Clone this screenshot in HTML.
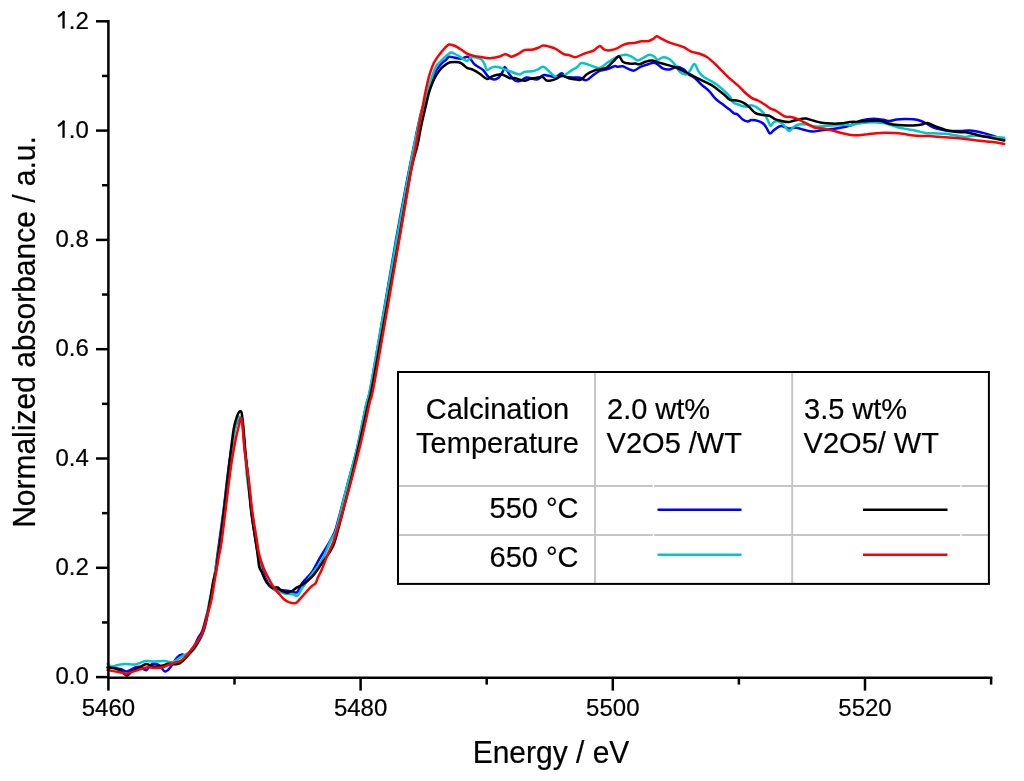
<!DOCTYPE html>
<html><head><meta charset="utf-8"><style>
html,body{margin:0;padding:0;background:#fff;width:1024px;height:781px;overflow:hidden}
svg{display:block}
text{font-family:"Liberation Sans",sans-serif;fill:#000;stroke:#000;stroke-width:0.2px;stroke-linejoin:round}
svg{will-change:transform}
</style></head><body>
<svg width="1024" height="781" viewBox="0 0 1024 781">
<rect width="1024" height="781" fill="#fff"/>
<path fill="none" stroke="#0000ff" stroke-width="2.5" stroke-linejoin="round" stroke-linecap="round" d="M107.60,667.40 C108.67,667.50 111.75,667.72 114.00,668.00 C116.25,668.28 118.93,668.52 121.10,669.10 C123.27,669.68 124.65,671.78 127.00,671.50 C129.35,671.22 133.07,668.18 135.20,667.40 C137.33,666.62 137.95,666.32 139.80,666.80 C141.65,667.28 144.53,670.60 146.30,670.30 C148.07,670.00 148.83,666.07 150.40,665.00 C151.97,663.93 154.13,663.80 155.70,663.90 C157.27,664.00 158.25,664.33 159.80,665.60 C161.35,666.87 163.25,671.20 165.00,671.50 C166.75,671.80 168.25,669.75 170.30,667.40 C172.35,665.05 175.35,659.55 177.30,657.40 C179.25,655.25 180.47,654.77 182.00,654.50 C183.53,654.23 185.00,656.52 186.50,655.80 C188.00,655.08 189.67,651.92 191.00,650.20 C192.33,648.48 193.27,647.62 194.50,645.50 C195.73,643.38 197.10,639.92 198.40,637.50 C199.70,635.08 200.93,634.72 202.30,631.00 C203.67,627.28 205.22,620.37 206.60,615.20 C207.98,610.03 209.37,605.87 210.60,600.00 C211.83,594.13 213.02,586.33 214.00,580.00 C214.98,573.67 215.58,568.67 216.50,562.00 C217.42,555.33 218.33,548.50 219.50,540.00 C220.67,531.50 222.33,520.17 223.50,511.00 C224.67,501.83 225.58,492.67 226.50,485.00 C227.42,477.33 228.08,471.67 229.00,465.00 C229.92,458.33 231.00,451.17 232.00,445.00 C233.00,438.83 233.93,432.33 235.00,428.00 C236.07,423.67 237.57,420.83 238.40,419.00 C239.23,417.17 239.37,416.83 240.00,417.00 C240.63,417.17 241.65,417.83 242.20,420.00 C242.75,422.17 242.87,425.00 243.30,430.00 C243.73,435.00 243.92,441.50 244.80,450.00 C245.68,458.50 247.48,470.67 248.60,481.00 C249.72,491.33 250.35,502.17 251.50,512.00 C252.65,521.83 254.32,532.67 255.50,540.00 C256.68,547.33 257.47,551.00 258.60,556.00 C259.73,561.00 260.73,565.53 262.30,570.00 C263.87,574.47 265.95,579.57 268.00,582.80 C270.05,586.03 272.13,588.17 274.60,589.40 C277.07,590.63 280.07,589.90 282.80,590.20 C285.53,590.50 288.62,590.87 291.00,591.20 C293.38,591.53 295.23,593.57 297.10,592.20 C298.97,590.83 299.82,586.23 302.20,583.00 C304.58,579.77 308.50,576.90 311.40,572.80 C314.30,568.70 317.17,562.53 319.60,558.40 C322.03,554.27 324.18,551.07 326.00,548.00 C327.82,544.93 328.83,543.33 330.50,540.00 C332.17,536.67 333.13,537.38 336.00,528.00 C338.87,518.62 344.22,496.83 347.70,483.70 C351.18,470.57 353.83,462.25 356.90,449.20 C359.97,436.15 363.58,416.93 366.10,405.40 C368.62,393.87 367.02,407.57 372.00,380.00 C376.98,352.43 389.87,274.73 396.00,240.00 C402.13,205.27 405.47,188.97 408.80,171.60 C412.13,154.23 413.92,145.73 416.00,135.80 C418.08,125.87 419.33,119.05 421.30,112.00 C423.27,104.95 425.97,98.97 427.80,93.50 C429.63,88.03 430.83,83.12 432.30,79.20 C433.77,75.28 435.12,72.57 436.60,70.00 C438.08,67.43 439.67,65.47 441.20,63.80 C442.73,62.13 444.50,61.17 445.80,60.00 C447.10,58.83 447.63,57.22 449.00,56.80 C450.37,56.38 452.03,57.17 454.00,57.50 C455.97,57.83 458.63,58.92 460.80,58.80 C462.97,58.68 465.40,56.80 467.00,56.80 C468.60,56.80 469.13,57.53 470.40,58.80 C471.67,60.07 472.52,62.55 474.60,64.40 C476.68,66.25 480.60,67.83 482.90,69.90 C485.20,71.97 486.55,75.18 488.40,76.80 C490.25,78.42 492.27,79.48 494.00,79.60 C495.73,79.72 497.38,78.77 498.80,77.50 C500.22,76.23 501.47,73.73 502.50,72.00 C503.53,70.27 503.88,66.77 505.00,67.10 C506.12,67.43 507.47,71.72 509.20,74.00 C510.93,76.28 513.52,79.67 515.40,80.80 C517.28,81.93 518.60,81.33 520.50,80.80 C522.40,80.27 524.05,77.82 526.80,77.60 C529.55,77.38 534.25,79.92 537.00,79.50 C539.75,79.08 540.98,75.63 543.30,75.10 C545.62,74.57 548.78,75.98 550.90,76.30 C553.02,76.62 554.20,77.52 556.00,77.00 C557.80,76.48 560.00,73.20 561.70,73.20 C563.40,73.20 563.33,76.27 566.20,77.00 C569.07,77.73 575.52,77.08 578.90,77.60 C582.28,78.12 583.97,80.63 586.50,80.10 C589.03,79.57 591.78,75.98 594.10,74.40 C596.42,72.82 598.28,71.43 600.40,70.60 C602.52,69.77 604.47,70.13 606.80,69.40 C609.13,68.67 612.60,66.63 614.40,66.20 C616.20,65.77 616.22,66.80 617.60,66.80 C618.98,66.80 621.00,65.88 622.70,66.20 C624.40,66.52 625.90,67.97 627.80,68.70 C629.70,69.43 631.98,70.92 634.10,70.60 C636.22,70.28 638.17,67.85 640.50,66.80 C642.83,65.75 645.88,64.97 648.10,64.30 C650.32,63.63 652.12,62.70 653.80,62.80 C655.48,62.90 656.62,63.92 658.20,64.90 C659.78,65.88 661.38,67.95 663.30,68.70 C665.22,69.45 667.37,69.72 669.70,69.40 C672.03,69.08 674.98,66.80 677.30,66.80 C679.62,66.80 681.70,68.13 683.60,69.40 C685.50,70.67 686.78,72.93 688.70,74.40 C690.62,75.87 692.98,76.50 695.10,78.20 C697.22,79.90 699.08,82.48 701.40,84.60 C703.72,86.72 706.67,88.57 709.00,90.90 C711.33,93.23 713.28,96.48 715.40,98.60 C717.52,100.72 719.38,101.82 721.70,103.60 C724.02,105.38 727.28,107.70 729.30,109.30 C731.32,110.90 732.42,112.35 733.80,113.20 C735.18,114.05 736.12,113.35 737.60,114.40 C739.08,115.45 741.00,118.33 742.70,119.50 C744.40,120.67 746.32,121.30 747.80,121.40 C749.28,121.50 749.70,120.10 751.60,120.10 C753.50,120.10 757.08,120.65 759.20,121.40 C761.32,122.15 762.92,123.22 764.30,124.60 C765.68,125.98 766.55,128.22 767.50,129.70 C768.45,131.18 768.85,133.50 770.00,133.50 C771.15,133.50 772.60,130.97 774.40,129.70 C776.20,128.43 778.47,126.12 780.80,125.90 C783.13,125.68 785.87,128.08 788.40,128.40 C790.93,128.72 793.47,127.58 796.00,127.80 C798.53,128.02 800.85,129.07 803.60,129.70 C806.35,130.33 809.53,131.50 812.50,131.60 C815.47,131.70 818.22,130.73 821.40,130.30 C824.58,129.87 828.43,129.42 831.60,129.00 C834.77,128.58 837.45,128.32 840.40,127.80 C843.35,127.28 846.97,126.58 849.30,125.90 C851.63,125.22 852.53,124.57 854.40,123.70 C856.27,122.83 858.30,121.45 860.50,120.70 C862.70,119.95 864.95,119.50 867.60,119.20 C870.25,118.90 873.77,118.80 876.40,118.90 C879.03,119.00 881.22,119.43 883.40,119.80 C885.58,120.17 887.30,121.15 889.50,121.10 C891.70,121.05 894.10,119.87 896.60,119.50 C899.10,119.13 901.72,118.95 904.50,118.90 C907.28,118.85 910.67,118.90 913.30,119.20 C915.93,119.50 918.25,120.07 920.30,120.70 C922.35,121.33 923.55,121.92 925.60,123.00 C927.65,124.08 930.57,126.23 932.60,127.20 C934.63,128.17 935.63,128.25 937.80,128.80 C939.97,129.35 943.00,130.12 945.60,130.50 C948.20,130.88 950.78,131.03 953.40,131.10 C956.02,131.17 958.68,131.00 961.30,130.90 C963.92,130.80 966.50,130.40 969.10,130.50 C971.70,130.60 974.30,131.02 976.90,131.50 C979.50,131.98 982.10,132.68 984.70,133.40 C987.30,134.12 989.25,134.82 992.50,135.80 C995.75,136.78 1002.25,138.72 1004.20,139.30"/><path fill="none" stroke="#00c8c8" stroke-width="2.5" stroke-linejoin="round" stroke-linecap="round" d="M107.60,663.90 C108.28,664.38 109.97,666.62 111.70,666.80 C113.43,666.98 115.65,665.48 118.00,665.00 C120.35,664.52 122.93,663.98 125.80,663.90 C128.67,663.82 131.88,664.98 135.20,664.50 C138.52,664.02 142.58,661.50 145.70,661.00 C148.82,660.50 150.77,661.50 153.90,661.50 C157.03,661.50 161.37,660.90 164.50,661.00 C167.63,661.10 169.78,662.88 172.70,662.10 C175.62,661.32 178.88,658.05 182.00,656.30 C185.12,654.55 189.23,652.98 191.40,651.60 C193.57,650.22 193.43,650.35 195.00,648.00 C196.57,645.65 199.05,641.20 200.80,637.50 C202.55,633.80 204.22,631.05 205.50,625.80 C206.78,620.55 207.17,613.47 208.50,606.00 C209.83,598.53 212.08,588.67 213.50,581.00 C214.92,573.33 215.92,566.50 217.00,560.00 C218.08,553.50 218.87,550.08 220.00,542.00 C221.13,533.92 222.65,520.93 223.80,511.50 C224.95,502.07 225.97,493.15 226.90,485.40 C227.83,477.65 228.38,472.57 229.40,465.00 C230.42,457.43 231.90,446.67 233.00,440.00 C234.10,433.33 235.10,428.67 236.00,425.00 C236.90,421.33 237.73,419.33 238.40,418.00 C239.07,416.67 239.40,416.67 240.00,417.00 C240.60,417.33 241.42,417.50 242.00,420.00 C242.58,422.50 243.00,427.00 243.50,432.00 C244.00,437.00 244.42,442.50 245.00,450.00 C245.58,457.50 245.83,466.67 247.00,477.00 C248.17,487.33 250.50,501.50 252.00,512.00 C253.50,522.50 255.03,532.67 256.00,540.00 C256.97,547.33 256.93,551.00 257.80,556.00 C258.67,561.00 259.73,565.67 261.20,570.00 C262.67,574.33 264.47,578.70 266.60,582.00 C268.73,585.30 271.13,587.93 274.00,589.80 C276.87,591.67 280.63,592.45 283.80,593.20 C286.97,593.95 290.70,593.87 293.00,594.30 C295.30,594.73 296.07,596.83 297.60,595.80 C299.13,594.77 299.90,591.60 302.20,588.10 C304.50,584.60 308.15,579.40 311.40,574.80 C314.65,570.20 318.45,566.30 321.70,560.50 C324.95,554.70 328.50,545.10 330.90,540.00 C333.30,534.90 333.30,539.28 336.10,529.90 C338.90,520.52 344.23,497.15 347.70,483.70 C351.17,470.25 353.83,462.25 356.90,449.20 C359.97,436.15 363.60,416.93 366.10,405.40 C368.60,393.87 366.83,407.57 371.90,380.00 C376.97,352.43 390.30,274.73 396.50,240.00 C402.70,205.27 405.82,188.97 409.10,171.60 C412.38,154.23 414.13,145.73 416.20,135.80 C418.27,125.87 419.67,119.05 421.50,112.00 C423.33,104.95 425.58,98.97 427.20,93.50 C428.82,88.03 429.77,83.63 431.20,79.20 C432.63,74.77 434.40,69.72 435.80,66.90 C437.20,64.08 438.20,63.83 439.60,62.30 C441.00,60.77 442.65,59.12 444.20,57.70 C445.75,56.28 447.75,54.65 448.90,53.80 C450.05,52.95 449.92,52.48 451.10,52.60 C452.28,52.72 454.38,53.70 456.00,54.50 C457.62,55.30 458.97,56.33 460.80,57.40 C462.63,58.47 465.28,60.90 467.00,60.90 C468.72,60.90 469.60,57.98 471.10,57.40 C472.60,56.82 474.27,57.05 476.00,57.40 C477.73,57.75 480.12,58.45 481.50,59.50 C482.88,60.55 483.38,61.97 484.30,63.70 C485.22,65.43 485.85,69.22 487.00,69.90 C488.15,70.58 489.82,68.32 491.20,67.80 C492.58,67.28 493.68,66.80 495.30,66.80 C496.92,66.80 499.28,67.35 500.90,67.80 C502.52,68.25 503.48,68.92 505.00,69.50 C506.52,70.08 507.63,70.48 510.00,71.30 C512.37,72.12 516.82,74.30 519.20,74.40 C521.58,74.50 522.18,72.42 524.30,71.90 C526.42,71.38 529.58,71.72 531.90,71.30 C534.22,70.88 536.30,70.15 538.20,69.40 C540.10,68.65 541.38,66.38 543.30,66.80 C545.22,67.22 547.58,70.20 549.70,71.90 C551.82,73.60 553.68,76.37 556.00,77.00 C558.32,77.63 561.07,76.77 563.60,75.70 C566.13,74.63 568.87,72.08 571.20,70.60 C573.53,69.12 575.90,68.07 577.60,66.80 C579.30,65.53 579.50,63.32 581.40,63.00 C583.30,62.68 586.03,64.05 589.00,64.90 C591.97,65.75 596.23,68.42 599.20,68.10 C602.17,67.78 605.00,64.17 606.80,63.00 C608.60,61.83 608.62,61.95 610.00,61.10 C611.38,60.25 613.20,58.85 615.10,57.90 C617.00,56.95 619.50,55.92 621.40,55.40 C623.30,54.88 624.80,54.58 626.50,54.80 C628.20,55.02 629.70,55.75 631.60,56.70 C633.50,57.65 636.00,60.30 637.90,60.50 C639.80,60.70 641.08,58.85 643.00,57.90 C644.92,56.95 647.50,55.00 649.40,54.80 C651.30,54.60 653.03,55.87 654.40,56.70 C655.77,57.53 656.12,59.70 657.60,59.80 C659.08,59.90 661.28,57.40 663.30,57.30 C665.32,57.20 667.80,58.03 669.70,59.20 C671.60,60.37 673.02,62.18 674.70,64.30 C676.38,66.42 677.88,70.22 679.80,71.90 C681.72,73.58 684.50,74.62 686.20,74.40 C687.90,74.18 688.63,72.33 690.00,70.60 C691.37,68.87 692.92,63.78 694.40,64.00 C695.88,64.22 697.32,69.73 698.90,71.90 C700.48,74.07 701.78,75.42 703.90,77.00 C706.02,78.58 709.48,80.13 711.60,81.40 C713.72,82.67 714.48,83.02 716.60,84.60 C718.72,86.18 722.07,88.88 724.30,90.90 C726.53,92.92 728.53,94.78 730.00,96.70 C731.47,98.62 731.83,101.13 733.10,102.40 C734.37,103.67 735.58,103.57 737.60,104.30 C739.62,105.03 742.87,106.63 745.20,106.80 C747.53,106.97 749.48,105.08 751.60,105.30 C753.72,105.52 755.78,106.68 757.90,108.10 C760.02,109.52 762.60,111.68 764.30,113.80 C766.00,115.92 767.05,118.78 768.10,120.80 C769.15,122.82 769.65,125.68 770.60,125.90 C771.55,126.12 772.53,122.85 773.80,122.10 C775.07,121.35 776.62,120.98 778.20,121.40 C779.78,121.82 781.50,123.02 783.30,124.60 C785.10,126.18 787.30,130.48 789.00,130.90 C790.70,131.32 791.90,128.15 793.50,127.10 C795.10,126.05 796.48,125.02 798.60,124.60 C800.72,124.18 803.25,124.28 806.20,124.60 C809.15,124.92 812.92,126.28 816.30,126.50 C819.68,126.72 823.12,126.12 826.50,125.90 C829.88,125.68 833.22,125.42 836.60,125.20 C839.98,124.98 844.57,124.55 846.80,124.60 C849.03,124.65 848.30,125.65 850.00,125.50 C851.70,125.35 854.07,124.22 857.00,123.70 C859.93,123.18 864.37,122.62 867.60,122.40 C870.83,122.18 873.77,122.30 876.40,122.40 C879.03,122.50 881.07,122.57 883.40,123.00 C885.73,123.43 888.05,124.30 890.40,125.00 C892.75,125.70 894.87,126.53 897.50,127.20 C900.13,127.87 903.13,128.40 906.20,129.00 C909.27,129.60 912.67,130.13 915.90,130.80 C919.13,131.47 923.25,132.58 925.60,133.00 C927.95,133.42 927.97,133.23 930.00,133.30 C932.03,133.37 935.20,133.32 937.80,133.40 C940.40,133.48 943.00,133.53 945.60,133.80 C948.20,134.07 950.27,134.47 953.40,135.00 C956.53,135.53 961.78,136.80 964.40,137.00 C967.02,137.20 967.02,136.40 969.10,136.20 C971.18,136.00 974.30,135.73 976.90,135.80 C979.50,135.87 982.10,136.40 984.70,136.60 C987.30,136.80 989.25,136.82 992.50,137.00 C995.75,137.18 1002.25,137.58 1004.20,137.70"/><path fill="none" stroke="#000" stroke-width="2.5" stroke-linejoin="round" stroke-linecap="round" d="M107.60,667.40 C108.67,667.50 111.77,667.40 114.00,668.00 C116.23,668.60 118.83,669.73 121.00,671.00 C123.17,672.27 125.33,675.43 127.00,675.60 C128.67,675.77 129.45,673.08 131.00,672.00 C132.55,670.92 134.63,670.02 136.30,669.10 C137.97,668.18 139.33,667.37 141.00,666.50 C142.67,665.63 144.73,664.05 146.30,663.90 C147.87,663.75 148.95,665.12 150.40,665.60 C151.85,666.08 153.05,666.80 155.00,666.80 C156.95,666.80 159.93,666.08 162.10,665.60 C164.27,665.12 165.85,664.13 168.00,663.90 C170.15,663.67 173.00,664.32 175.00,664.20 C177.00,664.08 178.05,664.40 180.00,663.20 C181.95,662.00 184.40,659.43 186.70,657.00 C189.00,654.57 191.65,651.52 193.80,648.60 C195.95,645.68 197.98,642.52 199.60,639.50 C201.22,636.48 202.23,634.42 203.50,630.50 C204.77,626.58 206.08,621.08 207.20,616.00 C208.32,610.92 209.20,605.73 210.20,600.00 C211.20,594.27 212.20,586.57 213.20,581.60 C214.20,576.63 215.43,574.37 216.20,570.20 C216.97,566.03 217.17,561.25 217.80,556.60 C218.43,551.95 219.00,549.82 220.00,542.30 C221.00,534.78 222.65,520.98 223.80,511.50 C224.95,502.02 225.97,493.48 226.90,485.40 C227.83,477.32 228.32,472.12 229.40,463.00 C230.48,453.88 232.30,437.95 233.40,430.70 C234.50,423.45 235.18,422.42 236.00,419.50 C236.82,416.58 237.60,414.57 238.30,413.20 C239.00,411.83 239.65,411.42 240.20,411.30 C240.75,411.18 241.20,411.05 241.60,412.50 C242.00,413.95 242.20,416.25 242.60,420.00 C243.00,423.75 243.55,429.87 244.00,435.00 C244.45,440.13 244.77,444.97 245.30,450.80 C245.83,456.63 246.68,464.80 247.20,470.00 C247.72,475.20 247.73,475.08 248.40,482.00 C249.07,488.92 250.03,501.97 251.20,511.50 C252.37,521.03 254.32,532.02 255.40,539.20 C256.48,546.38 257.07,550.03 257.70,554.60 C258.33,559.17 258.48,563.63 259.20,566.60 C259.92,569.57 261.08,570.35 262.00,572.40 C262.92,574.45 263.60,576.80 264.70,578.90 C265.80,581.00 267.23,583.45 268.60,585.00 C269.97,586.55 271.58,587.82 272.90,588.20 C274.22,588.58 275.58,587.35 276.50,587.30 C277.42,587.25 277.63,587.38 278.40,587.90 C279.17,588.42 279.73,589.62 281.10,590.40 C282.47,591.18 284.95,592.42 286.60,592.60 C288.25,592.78 289.18,592.42 291.00,591.50 C292.82,590.58 295.50,588.28 297.50,587.10 C299.50,585.92 301.17,585.58 303.00,584.40 C304.83,583.22 306.68,581.63 308.50,580.00 C310.32,578.37 312.32,576.42 313.90,574.60 C315.48,572.78 317.05,570.43 318.00,569.10 C318.95,567.77 318.13,568.72 319.60,566.60 C321.07,564.48 324.75,559.47 326.80,556.40 C328.85,553.33 330.35,551.47 331.90,548.20 C333.45,544.93 333.08,547.55 336.10,536.80 C339.12,526.05 345.97,499.85 350.00,483.70 C354.03,467.55 357.23,453.33 360.30,439.90 C363.37,426.47 366.20,413.08 368.40,403.10 C370.60,393.12 368.43,407.18 373.50,380.00 C378.57,352.82 392.60,274.67 398.80,240.00 C405.00,205.33 407.58,187.83 410.70,172.00 C413.82,156.17 415.72,152.83 417.50,145.00 C419.28,137.17 419.98,131.67 421.40,125.00 C422.82,118.33 424.75,110.33 426.00,105.00 C427.25,99.67 427.78,96.80 428.90,93.00 C430.02,89.20 431.42,85.27 432.70,82.20 C433.98,79.13 435.18,76.90 436.60,74.60 C438.02,72.30 439.67,70.07 441.20,68.40 C442.73,66.73 444.27,65.62 445.80,64.60 C447.33,63.58 448.25,62.68 450.40,62.30 C452.55,61.92 456.63,61.95 458.70,62.30 C460.77,62.65 461.42,63.48 462.80,64.40 C464.18,65.32 465.27,66.88 467.00,67.80 C468.73,68.72 471.02,68.87 473.20,69.90 C475.38,70.93 477.80,72.50 480.10,74.00 C482.40,75.50 484.92,78.55 487.00,78.90 C489.08,79.25 490.52,76.85 492.60,76.10 C494.68,75.35 497.67,74.57 499.50,74.40 C501.33,74.23 501.85,74.47 503.60,75.10 C505.35,75.73 508.03,77.68 510.00,78.20 C511.97,78.72 513.02,77.77 515.40,78.20 C517.78,78.63 521.77,80.68 524.30,80.80 C526.83,80.92 527.65,79.53 530.60,78.90 C533.55,78.27 539.45,76.80 542.00,77.00 C544.55,77.20 544.62,79.47 545.90,80.10 C547.18,80.73 548.02,81.00 549.70,80.80 C551.38,80.60 554.00,79.75 556.00,78.90 C558.00,78.05 559.58,75.82 561.70,75.70 C563.82,75.58 566.27,77.57 568.70,78.20 C571.13,78.83 574.18,79.28 576.30,79.50 C578.42,79.72 579.70,80.35 581.40,79.50 C583.10,78.65 584.38,75.88 586.50,74.40 C588.62,72.92 591.78,71.43 594.10,70.60 C596.42,69.77 598.28,69.92 600.40,69.40 C602.52,68.88 604.68,68.78 606.80,67.50 C608.92,66.22 611.08,63.57 613.10,61.70 C615.12,59.83 617.30,56.30 618.90,56.30 C620.50,56.30 621.02,60.48 622.70,61.70 C624.38,62.92 626.88,63.28 629.00,63.60 C631.12,63.92 633.70,63.48 635.40,63.60 C637.10,63.72 637.52,64.62 639.20,64.30 C640.88,63.98 643.38,62.33 645.50,61.70 C647.62,61.07 649.78,60.38 651.90,60.50 C654.02,60.62 655.67,61.67 658.20,62.40 C660.73,63.13 664.13,64.05 667.10,64.90 C670.07,65.75 672.82,66.23 676.00,67.50 C679.18,68.77 682.82,70.82 686.20,72.50 C689.58,74.18 693.35,76.12 696.30,77.60 C699.25,79.08 701.35,80.13 703.90,81.40 C706.45,82.67 709.27,83.82 711.60,85.20 C713.93,86.58 715.78,88.12 717.90,89.70 C720.02,91.28 722.28,93.02 724.30,94.70 C726.32,96.38 728.00,98.83 730.00,99.80 C732.00,100.77 734.18,100.07 736.30,100.50 C738.42,100.93 740.58,101.35 742.70,102.40 C744.82,103.45 746.88,105.00 749.00,106.80 C751.12,108.60 753.07,111.82 755.40,113.20 C757.73,114.58 760.67,114.68 763.00,115.10 C765.33,115.52 767.50,115.07 769.40,115.70 C771.30,116.33 772.50,118.05 774.40,118.90 C776.30,119.75 778.47,120.27 780.80,120.80 C783.13,121.33 786.28,122.10 788.40,122.10 C790.52,122.10 791.38,121.33 793.50,120.80 C795.62,120.27 798.98,119.27 801.10,118.90 C803.22,118.53 804.08,118.28 806.20,118.60 C808.32,118.92 811.27,120.12 813.80,120.80 C816.33,121.48 818.43,122.23 821.40,122.70 C824.37,123.17 828.22,123.50 831.60,123.60 C834.98,123.70 838.63,123.57 841.70,123.30 C844.77,123.03 847.15,122.25 850.00,122.00 C852.85,121.75 855.87,121.98 858.80,121.80 C861.73,121.62 864.67,121.08 867.60,120.90 C870.53,120.72 874.07,120.67 876.40,120.70 C878.73,120.73 879.42,120.60 881.60,121.10 C883.78,121.60 886.72,123.05 889.50,123.70 C892.28,124.35 895.37,124.70 898.30,125.00 C901.23,125.30 904.17,125.45 907.10,125.50 C910.03,125.55 913.27,125.52 915.90,125.30 C918.53,125.08 921.00,124.60 922.90,124.20 C924.80,123.80 925.53,122.68 927.30,122.90 C929.07,123.12 931.75,124.78 933.50,125.50 C935.25,126.22 935.78,126.47 937.80,127.20 C939.82,127.93 943.00,129.18 945.60,129.90 C948.20,130.62 950.78,131.10 953.40,131.50 C956.02,131.90 959.22,132.17 961.30,132.30 C963.38,132.43 963.95,132.05 965.90,132.30 C967.85,132.55 970.52,133.22 973.00,133.80 C975.48,134.38 978.20,135.22 980.80,135.80 C983.40,136.38 986.00,136.78 988.60,137.30 C991.20,137.82 993.80,138.37 996.40,138.90 C999.00,139.43 1002.90,140.23 1004.20,140.50"/><path fill="none" stroke="#ff0000" stroke-width="2.5" stroke-linejoin="round" stroke-linecap="round" d="M107.60,670.10 C109.83,670.50 117.77,671.92 121.00,672.50 C124.23,673.08 124.63,673.87 127.00,673.60 C129.37,673.33 131.88,671.93 135.20,670.90 C138.52,669.87 143.38,667.88 146.90,667.40 C150.42,666.92 153.57,668.07 156.30,668.00 C159.03,667.93 160.97,667.63 163.30,667.00 C165.63,666.37 167.52,665.17 170.30,664.20 C173.08,663.23 177.55,662.37 180.00,661.20 C182.45,660.03 183.33,658.82 185.00,657.20 C186.67,655.58 188.52,653.27 190.00,651.50 C191.48,649.73 192.40,648.68 193.90,646.60 C195.40,644.52 197.50,641.43 199.00,639.00 C200.50,636.57 201.50,635.97 202.90,632.00 C204.30,628.03 205.98,620.53 207.40,615.20 C208.82,609.87 210.15,606.03 211.40,600.00 C212.65,593.97 213.63,586.33 214.90,579.00 C216.17,571.67 217.90,562.12 219.00,556.00 C220.10,549.88 220.43,549.72 221.50,542.30 C222.57,534.88 224.23,520.98 225.40,511.50 C226.57,502.02 227.48,493.48 228.50,485.40 C229.52,477.32 230.35,470.45 231.50,463.00 C232.65,455.55 234.25,446.62 235.40,440.70 C236.55,434.78 237.60,430.95 238.40,427.50 C239.20,424.05 239.72,421.55 240.20,420.00 C240.68,418.45 240.90,417.03 241.30,418.20 C241.70,419.37 242.03,421.57 242.60,427.00 C243.17,432.43 243.65,441.80 244.70,450.80 C245.75,459.80 247.63,470.88 248.90,481.00 C250.17,491.12 251.08,502.30 252.30,511.50 C253.52,520.70 255.05,529.02 256.20,536.20 C257.35,543.38 257.97,549.30 259.20,554.60 C260.43,559.90 262.22,564.40 263.60,568.00 C264.98,571.60 265.95,573.20 267.50,576.20 C269.05,579.20 271.08,583.18 272.90,586.00 C274.72,588.82 276.57,590.90 278.40,593.10 C280.23,595.30 282.08,597.65 283.90,599.20 C285.72,600.75 287.30,601.77 289.30,602.40 C291.30,603.03 294.07,603.63 295.90,603.00 C297.73,602.37 298.67,600.33 300.30,598.60 C301.93,596.87 303.88,594.60 305.70,592.60 C307.52,590.60 309.55,588.17 311.20,586.60 C312.85,585.03 314.47,584.75 315.60,583.20 C316.73,581.65 316.98,579.55 318.00,577.30 C319.02,575.05 320.07,573.53 321.70,569.70 C323.33,565.87 325.75,559.25 327.80,554.30 C329.85,549.35 331.85,546.00 334.00,540.00 C336.15,534.00 337.65,528.83 340.70,518.30 C343.75,507.77 348.83,489.87 352.30,476.80 C355.77,463.73 358.62,452.18 361.50,439.90 C364.38,427.62 367.37,413.08 369.60,403.10 C371.83,393.12 369.97,407.18 374.90,380.00 C379.83,352.82 393.20,274.73 399.20,240.00 C405.20,205.27 408.10,187.43 410.90,171.60 C413.70,155.77 414.67,152.45 416.00,145.00 C417.33,137.55 417.80,133.23 418.90,126.90 C420.00,120.57 421.52,112.78 422.60,107.00 C423.68,101.22 424.35,97.22 425.40,92.20 C426.45,87.18 427.68,81.37 428.90,76.90 C430.12,72.43 431.42,68.48 432.70,65.40 C433.98,62.32 435.18,60.58 436.60,58.40 C438.02,56.22 439.80,54.07 441.20,52.30 C442.60,50.53 443.70,49.10 445.00,47.80 C446.30,46.50 447.67,44.93 449.00,44.50 C450.33,44.07 451.62,44.77 453.00,45.20 C454.38,45.63 455.72,46.22 457.30,47.10 C458.88,47.98 460.77,49.35 462.50,50.50 C464.23,51.65 465.68,53.07 467.70,54.00 C469.72,54.93 472.30,55.58 474.60,56.10 C476.90,56.62 479.52,56.80 481.50,57.10 C483.48,57.40 484.77,57.73 486.50,57.90 C488.23,58.07 489.85,58.28 491.90,58.10 C493.95,57.92 496.62,57.43 498.80,56.80 C500.98,56.17 503.13,54.42 505.00,54.30 C506.87,54.18 508.90,55.70 510.00,56.10 C511.10,56.50 510.28,57.03 511.60,56.70 C512.92,56.37 515.78,55.20 517.90,54.10 C520.02,53.00 521.97,50.83 524.30,50.10 C526.63,49.37 529.58,50.08 531.90,49.70 C534.22,49.32 536.30,48.50 538.20,47.80 C540.10,47.10 541.38,45.67 543.30,45.50 C545.22,45.33 547.58,46.22 549.70,46.80 C551.82,47.38 553.68,47.78 556.00,49.00 C558.32,50.22 561.48,53.10 563.60,54.10 C565.72,55.10 566.78,54.47 568.70,55.00 C570.62,55.53 572.98,57.33 575.10,57.30 C577.22,57.27 579.50,55.53 581.40,54.80 C583.30,54.07 584.38,53.65 586.50,52.90 C588.62,52.15 591.88,51.47 594.10,50.30 C596.32,49.13 598.10,46.00 599.80,45.90 C601.50,45.80 602.50,48.97 604.30,49.70 C606.10,50.43 608.48,50.52 610.60,50.30 C612.72,50.08 614.98,49.25 617.00,48.40 C619.02,47.55 620.70,46.05 622.70,45.20 C624.70,44.35 626.88,43.72 629.00,43.30 C631.12,42.88 633.28,43.05 635.40,42.70 C637.52,42.35 639.58,41.45 641.70,41.20 C643.82,40.95 646.18,41.58 648.10,41.20 C650.02,40.82 651.77,39.72 653.20,38.90 C654.63,38.08 655.43,36.40 656.70,36.30 C657.97,36.20 658.85,37.33 660.80,38.30 C662.75,39.27 665.87,41.05 668.40,42.10 C670.93,43.15 673.47,43.77 676.00,44.60 C678.53,45.43 681.07,45.93 683.60,47.10 C686.13,48.27 688.65,50.53 691.20,51.60 C693.75,52.67 696.35,52.65 698.90,53.50 C701.45,54.35 703.97,55.12 706.50,56.70 C709.03,58.28 711.57,60.68 714.10,63.00 C716.63,65.32 719.17,68.07 721.70,70.60 C724.23,73.13 726.65,75.77 729.30,78.20 C731.95,80.63 735.15,82.97 737.60,85.20 C740.05,87.43 741.67,89.48 744.00,91.60 C746.33,93.72 749.28,96.42 751.60,97.90 C753.92,99.38 755.78,99.43 757.90,100.50 C760.02,101.57 762.18,102.93 764.30,104.30 C766.42,105.67 768.70,107.65 770.60,108.70 C772.50,109.75 773.37,109.33 775.70,110.60 C778.03,111.87 782.07,115.23 784.60,116.30 C787.13,117.37 788.78,116.57 790.90,117.00 C793.02,117.43 795.18,118.05 797.30,118.90 C799.42,119.75 801.70,121.15 803.60,122.10 C805.50,123.05 806.78,123.65 808.70,124.60 C810.62,125.55 812.77,127.17 815.10,127.80 C817.43,128.43 819.95,127.98 822.70,128.40 C825.45,128.82 828.65,129.57 831.60,130.30 C834.55,131.03 837.45,132.07 840.40,132.80 C843.35,133.53 846.23,134.30 849.30,134.70 C852.37,135.10 855.75,135.27 858.80,135.20 C861.85,135.13 864.67,134.63 867.60,134.30 C870.53,133.97 873.47,133.47 876.40,133.20 C879.33,132.93 882.28,132.73 885.20,132.70 C888.12,132.67 890.98,132.82 893.90,133.00 C896.82,133.18 899.77,133.43 902.70,133.80 C905.63,134.17 908.57,134.83 911.50,135.20 C914.43,135.57 917.37,135.87 920.30,136.00 C923.23,136.13 926.18,135.87 929.10,136.00 C932.02,136.13 935.05,136.58 937.80,136.80 C940.55,137.02 941.68,137.02 945.60,137.30 C949.52,137.58 956.08,137.97 961.30,138.50 C966.52,139.03 971.70,139.92 976.90,140.50 C982.10,141.08 987.95,141.42 992.50,142.00 C997.05,142.58 1002.25,143.67 1004.20,144.00"/>
<g stroke="#000" stroke-width="2.5" stroke-linecap="butt"><line x1="108.4" y1="20.05" x2="108.4" y2="679.05"/><line x1="107.15" y1="677.8" x2="992.35" y2="677.8"/><line x1="96.00" y1="677.10" x2="108.4" y2="677.10"/><line x1="96.00" y1="567.80" x2="108.4" y2="567.80"/><line x1="96.00" y1="458.50" x2="108.4" y2="458.50"/><line x1="96.00" y1="349.20" x2="108.4" y2="349.20"/><line x1="96.00" y1="239.90" x2="108.4" y2="239.90"/><line x1="96.00" y1="130.60" x2="108.4" y2="130.60"/><line x1="96.00" y1="21.30" x2="108.4" y2="21.30"/><line x1="102.00" y1="622.45" x2="108.4" y2="622.45"/><line x1="102.00" y1="513.15" x2="108.4" y2="513.15"/><line x1="102.00" y1="403.85" x2="108.4" y2="403.85"/><line x1="102.00" y1="294.55" x2="108.4" y2="294.55"/><line x1="102.00" y1="185.25" x2="108.4" y2="185.25"/><line x1="102.00" y1="75.95" x2="108.4" y2="75.95"/><line x1="108.40" y1="677.8" x2="108.40" y2="690.60"/><line x1="360.60" y1="677.8" x2="360.60" y2="690.60"/><line x1="612.80" y1="677.8" x2="612.80" y2="690.60"/><line x1="865.00" y1="677.8" x2="865.00" y2="690.60"/><line x1="234.50" y1="677.8" x2="234.50" y2="684.60"/><line x1="486.70" y1="677.8" x2="486.70" y2="684.60"/><line x1="738.90" y1="677.8" x2="738.90" y2="684.60"/><line x1="991.10" y1="677.8" x2="991.10" y2="684.60"/></g>
<text transform="translate(88.80,684.30) scale(1.0,1.02)" font-size="24" text-anchor="end">0.0</text><text transform="translate(88.80,575.00) scale(1.0,1.02)" font-size="24" text-anchor="end">0.2</text><text transform="translate(88.80,465.70) scale(1.0,1.02)" font-size="24" text-anchor="end">0.4</text><text transform="translate(88.80,356.40) scale(1.0,1.02)" font-size="24" text-anchor="end">0.6</text><text transform="translate(88.80,247.10) scale(1.0,1.02)" font-size="24" text-anchor="end">0.8</text><path d="M63.55,120.60V137.80" stroke="#000" stroke-width="2.3" fill="none"/><path d="M64.4,121.20L58.1,126.20" stroke="#000" stroke-width="2.2" fill="none" stroke-linecap="butt"/><text transform="translate(88.80,137.80) scale(1.0,1.02)" font-size="24" text-anchor="end">.0</text><path d="M63.55,11.30V28.50" stroke="#000" stroke-width="2.3" fill="none"/><path d="M64.4,11.90L58.1,16.90" stroke="#000" stroke-width="2.2" fill="none" stroke-linecap="butt"/><text transform="translate(88.80,28.50) scale(1.0,1.02)" font-size="24" text-anchor="end">.2</text><text transform="translate(108.40,716.30) scale(1.0,1.02)" font-size="24" text-anchor="middle">5460</text><text transform="translate(360.60,716.30) scale(1.0,1.02)" font-size="24" text-anchor="middle">5480</text><text transform="translate(612.80,716.30) scale(1.0,1.02)" font-size="24" text-anchor="middle">5500</text><text transform="translate(865.00,716.30) scale(1.0,1.02)" font-size="24" text-anchor="middle">5520</text>
<text transform="translate(551.00,762.50) scale(1.0,1.04)" font-size="30" text-anchor="middle">Energy / eV</text><text transform="translate(35.20,332.00) rotate(-90) scale(1.0,1.04)" font-size="30" text-anchor="middle">Normalized absorbance / a.u.</text>
<rect x="398" y="372" width="590.9" height="211.9" fill="#fff" stroke="none"/><g stroke="#c6c6c6" stroke-width="2"><line x1="595" y1="372" x2="595" y2="583.9"/><line x1="792.2" y1="372" x2="792.2" y2="583.9"/><line x1="398" y1="485.9" x2="988.9" y2="485.9"/><line x1="398" y1="535" x2="988.9" y2="535"/></g><g fill="#fff"><rect x="652.7" y="484.4" width="1.4" height="3"/><rect x="652.7" y="533.5" width="1.4" height="3"/><rect x="960.3" y="484.4" width="1.4" height="3"/><rect x="960.3" y="533.5" width="1.4" height="3"/></g><rect x="398" y="372" width="590.9" height="211.9" fill="none" stroke="#000" stroke-width="2"/><text transform="translate(497.50,419.00)" font-size="29" text-anchor="middle">Calcination</text><text transform="translate(497.50,453.20)" font-size="29" text-anchor="middle">Temperature</text><text transform="translate(578.50,517.80)" font-size="29" text-anchor="end">550 °C</text><text transform="translate(578.50,567.10)" font-size="29" text-anchor="end">650 °C</text><text transform="translate(607.00,419.00)" font-size="29">2.0 wt%</text><text transform="translate(606.60,452.80)" font-size="29">V2O5 /WT</text><text transform="translate(804.00,419.00)" font-size="29">3.5 wt%</text><text transform="translate(803.60,452.80)" font-size="29">V2O5/ WT</text><g stroke-width="2.5" stroke-linecap="butt"><line x1="657.5" y1="509.8" x2="741.5" y2="509.8" stroke="#0000ff"/><line x1="657.5" y1="554.7" x2="741.5" y2="554.7" stroke="#00c8c8"/><line x1="863" y1="509.8" x2="947.5" y2="509.8" stroke="#000"/><line x1="863" y1="554.7" x2="947.5" y2="554.7" stroke="#ff0000"/></g>
</svg>
</body></html>
